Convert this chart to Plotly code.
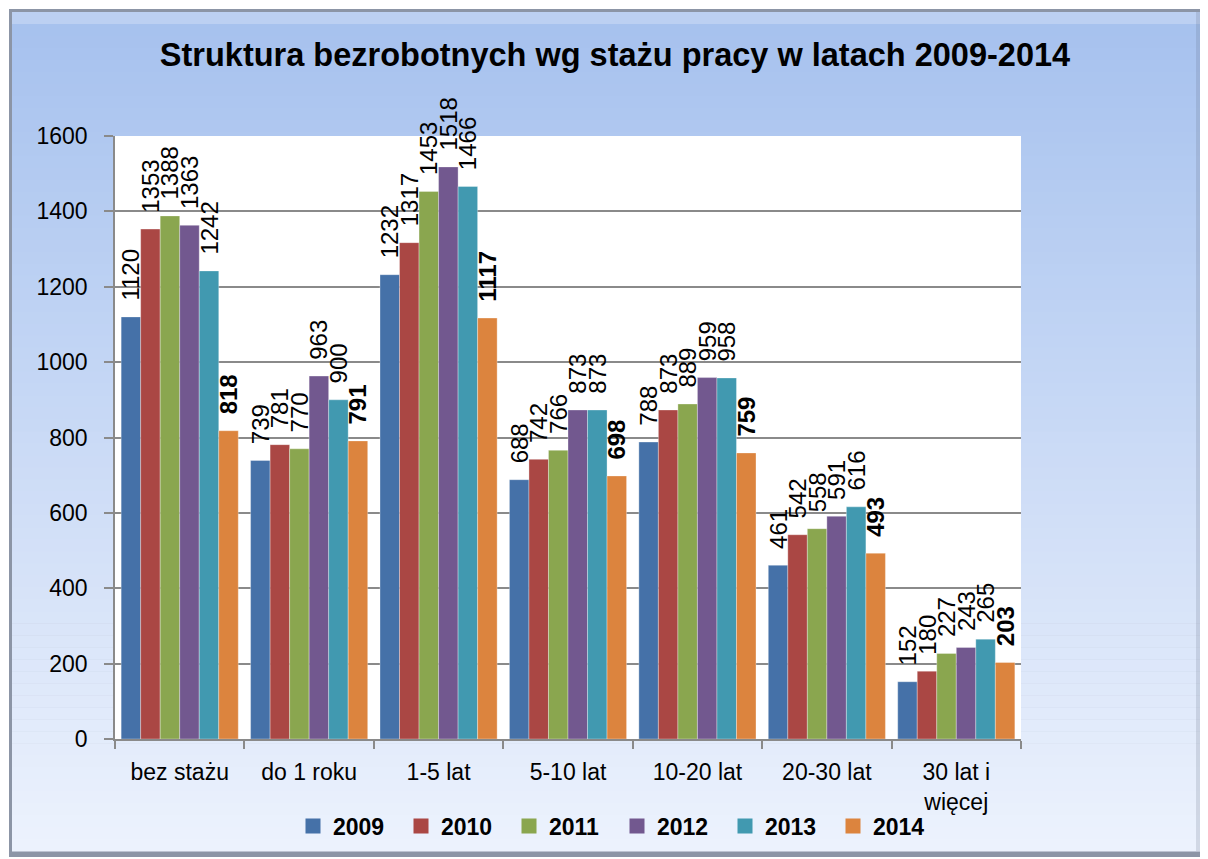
import plotly.graph_objects as go

categories = ["bez stażu", "do 1 roku", "1-5 lat", "5-10 lat", "10-20 lat", "20-30 lat", "30 lat i<br>więcej"]
years = ["2009", "2010", "2011", "2012", "2013", "2014"]
v2009 = [1120, 739, 1232, 688, 788, 461, 152]
v2010 = [1353, 781, 1317, 742, 873, 542, 180]
v2011 = [1388, 770, 1453, 766, 889, 558, 227]
v2012 = [1363, 963, 1518, 873, 959, 591, 243]
v2013 = [1242, 900, 1466, 873, 958, 616, 265]
v2014 = [818, 791, 1117, 698, 759, 493, 203]
series = [v2009, v2010, v2011, v2012, v2013, v2014]
colors = ["#4571A8", "#AA4744", "#8AA64F", "#72588F", "#4199B0", "#DC843E"]
y_ticks = [0, 200, 400, 600, 800, 1000, 1200, 1400, 1600]

OFF = 8                      # page body margin
W, H = 1208 - OFF, 859 - OFF
L, R, T, B = 115, 1021, 136, 739   # plot area in page pixels
FONT = "Liberation Sans"

def px(x):
    return (x - L) / (R - L)

def py(y):
    return (B - y) / (B - T)

fig = go.Figure()
for yr, vals, col in zip(years, series, colors):
    bold = yr == "2014"
    fig.add_trace(go.Bar(
        name=yr, x=categories, y=vals, showlegend=False,
        marker=dict(color=col, line=dict(width=0.8, color="rgba(255,255,255,0.4)")),
        texttemplate="\u00a0\u00a0" + ("<b>%{y}</b>" if bold else "%{y}"),
        textposition="outside", textangle=-90, constraintext="none",
        cliponaxis=False,
        textfont=dict(family=FONT, size=24, color="black"),
    ))
# legend entries (square swatches)
for yr, col in zip(years, colors):
    fig.add_trace(go.Scatter(
        name=yr, x=[None], y=[None], mode="markers",
        marker=dict(symbol="square", size=15, color=col),
        showlegend=True, hoverinfo="skip",
    ))

shapes = []
shapes.append(dict(type="rect", xref="paper", yref="paper", layer="below",
                   x0=px(9), x1=px(1206), y0=py(857), y1=py(9),
                   fillcolor="#8C95A6", line=dict(width=0)))
top = (0xA6, 0xC1, 0xEE)
bot = (0xEC, 0xF2, 0xFD)
y_start, y_end = 12, 851
n = 70
for i in range(n):
    t = i / (n - 1)
    c = tuple(int(round(top[k] + (bot[k] - top[k]) * t)) for k in range(3))
    y0 = y_start + (y_end - y_start) * i / n
    y1 = y_start + (y_end - y_start) * (i + 1) / n
    shapes.append(dict(type="rect", xref="paper", yref="paper", layer="below",
                       x0=px(12), x1=px(1202), y0=py(y1 + 0.6), y1=py(y0),
                       fillcolor="rgb(%d,%d,%d)" % c, line=dict(width=0)))
shapes.append(dict(type="rect", xref="paper", yref="paper", layer="below",
                   x0=px(12), x1=px(1202), y0=py(24), y1=py(12),
                   fillcolor="rgba(255,255,255,0.25)", line=dict(width=0)))
shapes.append(dict(type="rect", xref="paper", yref="paper", layer="below",
                   x0=px(1196), x1=px(1202), y0=py(851), y1=py(12),
                   fillcolor="rgba(90,100,120,0.18)", line=dict(width=0)))
shapes.append(dict(type="rect", xref="paper", yref="paper", layer="below",
                   x0=0, x1=1, y0=0, y1=1,
                   fillcolor="white", line=dict(width=0)))

fig.update_layout(
    width=W, height=H,
    margin=dict(l=L - OFF, r=(OFF + W) - R, t=T - OFF, b=(OFF + H) - B, pad=0,
                autoexpand=False),
    paper_bgcolor="white", plot_bgcolor="white",
    barmode="group", bargap=0.095, bargroupgap=0,
    font=dict(family=FONT, size=22, color="black"),
    title=dict(text="<b>Struktura bezrobotnych wg stażu pracy w latach 2009-2014</b>",
               x=(615 - OFF) / W, xanchor="center", y=1 - (55 - OFF) / H, yanchor="middle",
               font=dict(family=FONT, size=32.5, color="black")),
    showlegend=True,
    legend=dict(orientation="h", x=px(293), xanchor="left", y=py(826), yanchor="middle",
                font=dict(family=FONT, size=23, color="black", weight="bold"),
                bgcolor="rgba(0,0,0,0)", itemwidth=30, traceorder="normal",
                entrywidth=63, entrywidthmode="pixels"),
    shapes=shapes,
)
fig.update_yaxes(range=[0, 1600], tickvals=y_ticks, showgrid=True,
                 gridcolor="#8A8A8A", gridwidth=1.5,
                 showline=True, linecolor="#8A8A8A", linewidth=1.5,
                 ticks="outside", ticklen=9, tickcolor="#8A8A8A", tickwidth=1.5,
                 ticklabelstandoff=12, zeroline=False,
                 tickfont=dict(family=FONT, size=23))
fig.update_xaxes(showline=True, linecolor="#8A8A8A", linewidth=1.5,
                 ticks="outside", tickson="boundaries", ticklen=8,
                 tickcolor="#8A8A8A", tickwidth=1.5, ticklabelstandoff=12,
                 tickfont=dict(family=FONT, size=23))

fig.write_html("out.html")
